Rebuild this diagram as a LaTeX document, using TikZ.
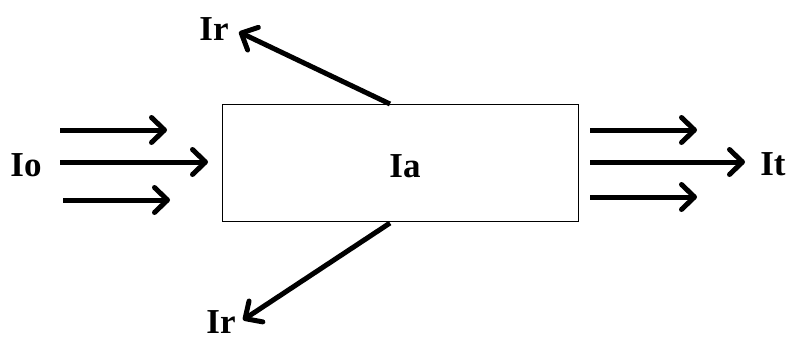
\documentclass[tikz,border=0pt]{standalone}
\usepackage{fontspec}
\setmainfont{Liberation Serif}
\usetikzlibrary{arrows.meta}
\begin{document}
\begin{tikzpicture}[x=1pt,y=-1pt,
  flow/.style={line width=5pt,-{Straight Barb[length=13pt,width=25pt,round]}},
  lbl/.style={font=\fontsize{35}{38}\selectfont\bfseries,inner sep=0pt},
  boxst/.style={draw,line width=1pt,minimum width=356pt,minimum height=117pt,inner sep=0pt}]
\useasboundingbox (0,0) rectangle (803,340);
\node[boxst] (box) at (400,162.5) {};
\node[lbl] (ia) at (405,166) {Ia};
\node[lbl] (io) at (26,165) {Io};
\node[lbl] (it) at (773,164) {It};
\node[lbl] (irt) at (214,29) {Ir};
\node[lbl] (irb) at (221,322) {Ir};
% left arrows
\coordinate (l1s) at (60,130); \coordinate (l1e) at (167,130);
\coordinate (l2s) at (60,162); \coordinate (l2e) at (208,162);
\coordinate (l3s) at (63,200); \coordinate (l3e) at (170,200);
\draw[flow] (l1s) -- (l1e);
\draw[flow] (l2s) -- (l2e);
\draw[flow] (l3s) -- (l3e);
% right arrows
\coordinate (r1s) at (590,130); \coordinate (r1e) at (697,130);
\coordinate (r2s) at (590,162); \coordinate (r2e) at (745,162);
\coordinate (r3s) at (590,197); \coordinate (r3e) at (697,197);
\draw[flow] (r1s) -- (r1e);
\draw[flow] (r2s) -- (r2e);
\draw[flow] (r3s) -- (r3e);
% reflected
\coordinate (ts) at (390,104); \coordinate (te) at (239,32);
\coordinate (bs) at (390,223); \coordinate (be) at (243,320);
\draw[flow] (ts) -- (te);
\draw[flow] (bs) -- (be);
\end{tikzpicture}
\end{document}
